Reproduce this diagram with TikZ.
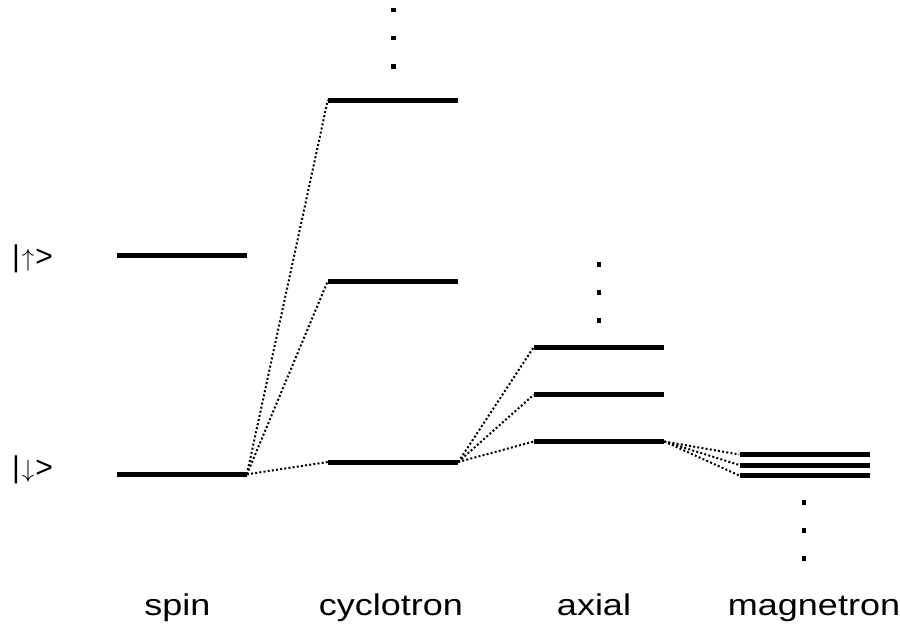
\documentclass[tikz,border=0pt]{standalone}
\usepackage{fontspec}
\setmainfont{Liberation Sans}
\begin{document}
\begin{tikzpicture}[x=1pt,y=-1pt,
  level/.style={fill=black,inner sep=0pt,minimum width=130pt,minimum height=5pt,draw=none},
  dotmark/.style={fill=black,inner sep=0pt,minimum size=4.5pt,draw=none},
  link/.style={line width=2pt,dash pattern=on 2pt off 2.2pt},
  lab/.style={inner sep=0pt,anchor=base,font=\fontsize{30}{34}\selectfont},
  ket/.style={inner sep=0pt,anchor=base west,font=\fontsize{30}{34}\selectfont}]
\useasboundingbox (0,0) rectangle (900,630);
% spin
\node[level] (su) at (181.7,255) {};
\node[level] (sd) at (181.7,474.3) {};
% cyclotron
\node[level] (c2) at (393,100) {};
\node[level] (c1) at (393,281) {};
\node[level] (c0) at (393,462) {};
\node[dotmark] (cd1) at (393.3,10) {};
\node[dotmark] (cd2) at (393.3,38) {};
\node[dotmark] (cd3) at (393.3,66.7) {};
% axial
\node[level] (a2) at (599,347) {};
\node[level] (a1) at (599,394.7) {};
\node[level] (a0) at (599,441.5) {};
\node[dotmark] (ad1) at (599,264.7) {};
\node[dotmark] (ad2) at (599,292.7) {};
\node[dotmark] (ad3) at (599,320.7) {};
% magnetron
\node[level] (m2) at (804.5,454.5) {};
\node[level] (m1) at (804.5,465) {};
\node[level] (m0) at (804.5,475.5) {};
\node[dotmark] (md1) at (804,502.7) {};
\node[dotmark] (md2) at (804,530.7) {};
\node[dotmark] (md3) at (804,558.7) {};
% connectors
\draw[link] (sd.east) -- (c2.west);
\draw[link] (sd.east) -- (c1.west);
\draw[link] (sd.east) -- (c0.west);
\draw[link] (c0.east) -- (a2.west);
\draw[link] (c0.east) -- (a1.west);
\draw[link] (c0.east) -- (a0.west);
\draw[link] (a0.east) -- (m2.west);
\draw[link] (a0.east) -- (m1.west);
\draw[link] (a0.east) -- (m0.west);
% labels
\node[ket] (kup) at (12,266.7) {|\kern2pt$\uparrow$\kern1pt>};
\node[ket] (kdn) at (12,477) {|\kern2pt$\downarrow$\kern1pt>};
\node[lab] (lspin) at (177.5,615) {\scalebox{1.2}[1]{spin}};
\node[lab] (lcyc) at (390.8,615) {\scalebox{1.2}[1]{cyclotron}};
\node[lab] (lax) at (594,615) {\scalebox{1.2}[1]{axial}};
\node[lab] (lmag) at (814,615) {\scalebox{1.2}[1]{magnetron}};
\end{tikzpicture}
\end{document}
